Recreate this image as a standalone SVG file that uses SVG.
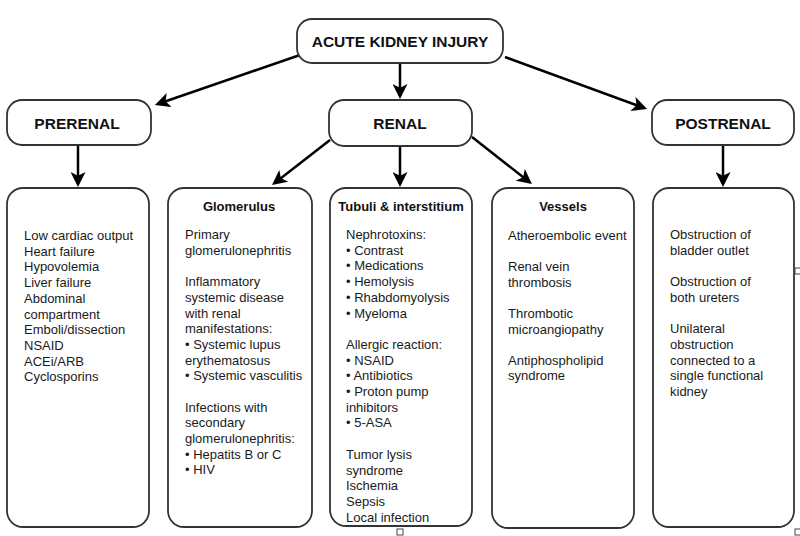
<svg xmlns="http://www.w3.org/2000/svg" width="800" height="536" viewBox="0 0 800 536">
  <defs>
    <marker id="ah" viewBox="0 0 15 15" markerWidth="15" markerHeight="15" markerUnits="userSpaceOnUse" refX="12" refY="7.5" orient="auto">
      <path d="M0,0 L15,7.5 L0,15 L3.8,7.5 z" fill="#000"/>
    </marker>
  </defs>
  <style>
    .box { fill: #fff; stroke: #333; stroke-width: 1.8; }
    .hdr { font-family: "Liberation Sans", Arial, sans-serif; font-size: 15.5px; font-weight: bold; fill: #111; text-anchor: middle; }
    .ttl { font-family: "Liberation Sans", Arial, sans-serif; font-size: 13px; font-weight: bold; fill: #111; text-anchor: middle; }
    .txt { font-family: "Liberation Sans", Arial, sans-serif; font-size: 13px; fill: #1a1a1a; }
    .con { stroke: #000; stroke-width: 2.5; fill: none; marker-end: url(#ah); }
    .hdl { fill: #fff; stroke: #444; stroke-width: 1; }
  </style>
  <rect width="800" height="536" fill="#fff"/>

  <g id="connectors">
    <line class="con" x1="300" y1="55" x2="157.8" y2="104"/>
    <line class="con" x1="400" y1="63" x2="400" y2="96"/>
    <line class="con" x1="505" y1="57" x2="644.2" y2="108"/>
    <line class="con" x1="78" y1="145" x2="78" y2="184"/>
    <line class="con" x1="330" y1="140" x2="274.4" y2="183.2"/>
    <line class="con" x1="400" y1="146" x2="400" y2="184"/>
    <line class="con" x1="472" y1="137" x2="529.6" y2="182.2"/>
    <line class="con" x1="723" y1="145" x2="723" y2="184"/>
  </g>

  <g id="aki">
    <rect class="box" x="297" y="19" width="206" height="44" rx="15"/>
    <text class="hdr" x="400" y="47">ACUTE KIDNEY INJURY</text>
  </g>

  <g id="prerenal">
    <rect class="box" x="7" y="100" width="144" height="45" rx="15"/>
    <text class="hdr" x="77" y="129">PRERENAL</text>
  </g>

  <g id="renal">
    <rect class="box" x="329" y="100" width="143" height="46" rx="15"/>
    <text class="hdr" x="400" y="129">RENAL</text>
  </g>

  <g id="postrenal">
    <rect class="box" x="652" y="100" width="142" height="45" rx="15"/>
    <text class="hdr" x="723" y="129">POSTRENAL</text>
  </g>

  <g id="prerenal-causes">
    <rect class="box" x="7" y="188" width="142" height="339" rx="16"/>
    <text class="txt" x="24" y="240">
      <tspan x="24" y="240">Low cardiac output</tspan>
      <tspan x="24" dy="15.7">Heart failure</tspan>
      <tspan x="24" dy="15.7">Hypovolemia</tspan>
      <tspan x="24" dy="15.7">Liver failure</tspan>
      <tspan x="24" dy="15.7">Abdominal</tspan>
      <tspan x="24" dy="15.7">compartment</tspan>
      <tspan x="24" dy="15.7">Emboli/dissection</tspan>
      <tspan x="24" dy="15.7">NSAID</tspan>
      <tspan x="24" dy="15.7">ACEi/ARB</tspan>
      <tspan x="24" dy="15.7">Cyclosporins</tspan>
    </text>
  </g>

  <g id="glomerulus">
    <rect class="box" x="168" y="188" width="144" height="339" rx="16"/>
    <text class="ttl" x="239" y="211">Glomerulus</text>
    <text class="txt" x="185" y="239">
      <tspan x="185" y="239">Primary</tspan>
      <tspan x="185" dy="15.7">glomerulonephritis</tspan>
      <tspan x="185" dy="31.4">Inflammatory</tspan>
      <tspan x="185" dy="15.7">systemic disease</tspan>
      <tspan x="185" dy="15.7">with renal</tspan>
      <tspan x="185" dy="15.7">manifestations:</tspan>
      <tspan x="185" dy="15.7">• Systemic lupus</tspan>
      <tspan x="185" dy="15.7">erythematosus</tspan>
      <tspan x="185" dy="15.7">• Systemic vasculitis</tspan>
      <tspan x="185" dy="31.4">Infections with</tspan>
      <tspan x="185" dy="15.7">secondary</tspan>
      <tspan x="185" dy="15.7">glomerulonephritis:</tspan>
      <tspan x="185" dy="15.7">• Hepatits B or C</tspan>
      <tspan x="185" dy="15.7">• HIV</tspan>
    </text>
  </g>

  <g id="tubuli">
    <rect class="box" x="330" y="188" width="142" height="338" rx="16"/>
    <text class="ttl" x="401" y="211">Tubuli &amp; interstitium</text>
    <text class="txt" x="346" y="239">
      <tspan x="346" y="239">Nephrotoxins:</tspan>
      <tspan x="346" dy="15.7">• Contrast</tspan>
      <tspan x="346" dy="15.7">• Medications</tspan>
      <tspan x="346" dy="15.7">• Hemolysis</tspan>
      <tspan x="346" dy="15.7">• Rhabdomyolysis</tspan>
      <tspan x="346" dy="15.7">• Myeloma</tspan>
      <tspan x="346" dy="31.4">Allergic reaction:</tspan>
      <tspan x="346" dy="15.7">• NSAID</tspan>
      <tspan x="346" dy="15.7">• Antibiotics</tspan>
      <tspan x="346" dy="15.7">• Proton pump</tspan>
      <tspan x="346" dy="15.7">inhibitors</tspan>
      <tspan x="346" dy="15.7">• 5-ASA</tspan>
      <tspan x="346" dy="31.4">Tumor lysis</tspan>
      <tspan x="346" dy="15.7">syndrome</tspan>
      <tspan x="346" dy="15.7">Ischemia</tspan>
      <tspan x="346" dy="15.7">Sepsis</tspan>
      <tspan x="346" dy="15.7">Local infection</tspan>
    </text>
  </g>

  <g id="vessels">
    <rect class="box" x="492" y="188" width="142" height="340" rx="16"/>
    <text class="ttl" x="563" y="211">Vessels</text>
    <text class="txt" x="508" y="240">
      <tspan x="508" y="240">Atheroembolic event</tspan>
      <tspan x="508" dy="31.2">Renal vein</tspan>
      <tspan x="508" dy="15.6">thrombosis</tspan>
      <tspan x="508" dy="31.2">Thrombotic</tspan>
      <tspan x="508" dy="15.6">microangiopathy</tspan>
      <tspan x="508" dy="31.2">Antiphospholipid</tspan>
      <tspan x="508" dy="15.6">syndrome</tspan>
    </text>
  </g>

  <g id="postrenal-causes">
    <rect class="box" x="653" y="188" width="141" height="339" rx="16"/>
    <text class="txt" x="670" y="239">
      <tspan x="670" y="239">Obstruction of</tspan>
      <tspan x="670" dy="15.7">bladder outlet</tspan>
      <tspan x="670" dy="31.4">Obstruction of</tspan>
      <tspan x="670" dy="15.7">both ureters</tspan>
      <tspan x="670" dy="31.4">Unilateral</tspan>
      <tspan x="670" dy="15.7">obstruction</tspan>
      <tspan x="670" dy="15.7">connected to a</tspan>
      <tspan x="670" dy="15.7">single functional</tspan>
      <tspan x="670" dy="15.7">kidney</tspan>
    </text>
  </g>

  <g id="handles">
    <rect class="hdl" x="397" y="529" width="6" height="6"/>
    <rect class="hdl" x="795" y="268" width="6" height="6"/>
    <rect class="hdl" x="795" y="529" width="6" height="6"/>
  </g>
</svg>
